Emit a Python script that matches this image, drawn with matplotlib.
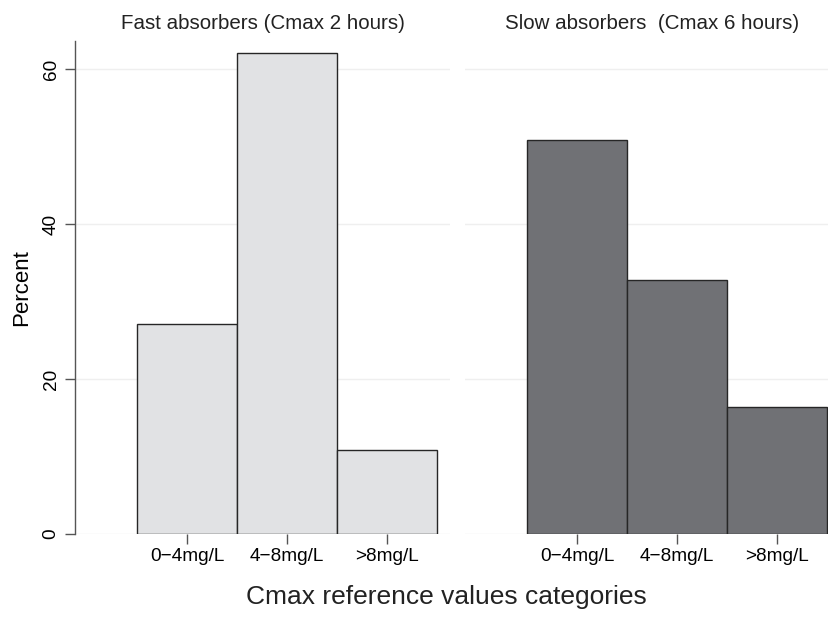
import matplotlib
matplotlib.use("Agg")
import matplotlib.pyplot as plt
import numpy as np

# ── data ─────────────────────────────────────────────────────────────
categories = ["0\u22124mg/L", "4\u22128mg/L", ">8mg/L"]
fast_pct = [27.1, 62.1, 10.8]
slow_pct = [50.8, 32.8, 16.4]
panel_titles = ["Fast absorbers (Cmax 2 hours)", "Slow absorbers  (Cmax 6 hours)"]
y_ticks = [0, 20, 40, 60]

plt.rcParams.update({
    "font.family": ["Liberation Sans", "DejaVu Sans"],
    "text.color": "#222222",
})

fig = plt.figure(figsize=(8.29, 6.19), dpi=100)
ax_l = fig.add_axes([0.0905, 0.1373, 0.4524, 0.7964])
ax_r = fig.add_axes([0.5609, 0.1373, 0.4524, 0.7964])

x = np.arange(1, len(categories) + 1)
fills = ["#e1e2e4", "#707175"]

for ax, vals, title, fc in zip((ax_l, ax_r), (fast_pct, slow_pct), panel_titles, fills):
    ax.bar(x, vals, width=1.0, color=fc, edgecolor="#262626", linewidth=1.0, zorder=3)
    ax.set_xlim(-0.12, 3.63)
    ax.set_ylim(0, 63.6)
    ax.set_yticks(y_ticks)
    ax.grid(axis="y", color="#efefef", linewidth=1.0, zorder=0)
    ax.set_xticks(x)
    ax.set_xticklabels(categories, fontsize=13.7)
    ax.tick_params(axis="x", length=7, width=1, color="#555555", pad=3)
    for s in ("top", "right", "bottom"):
        ax.spines[s].set_visible(False)
    ax.set_title(title, fontsize=14.8, pad=9)

# left panel carries the y axis
ax_l.spines["left"].set_color("#555555")
ax_l.spines["left"].set_linewidth(1.0)
ax_l.tick_params(axis="y", length=7, width=1, color="#555555", labelsize=13.7, pad=4)
for lab in ax_l.get_yticklabels():
    lab.set_rotation(90)
    lab.set_va("center")
ax_l.set_ylabel("Percent", fontsize=16, labelpad=8)

# right panel shares the scale but hides its axis
ax_r.spines["left"].set_visible(False)
ax_r.tick_params(axis="y", left=False, labelleft=False)

fig.text(0.539, 0.035, "Cmax reference values categories", ha="center", va="center", fontsize=19)

fig.savefig("out.png", dpi=100)
plt.close(fig)
